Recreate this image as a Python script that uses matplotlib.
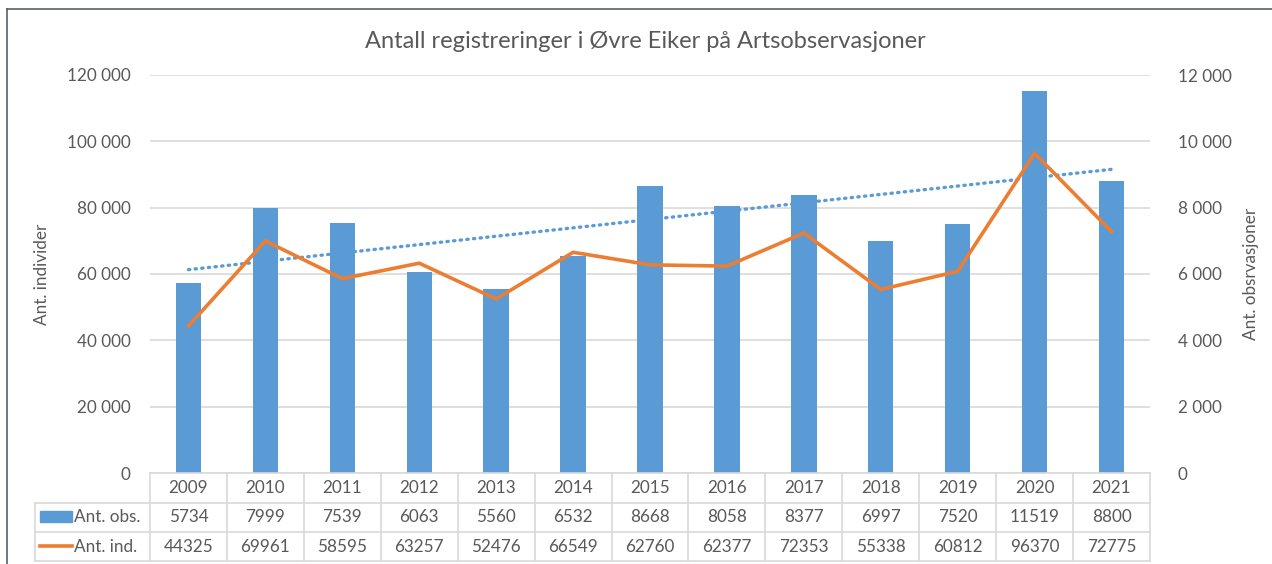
import matplotlib
matplotlib.use("Agg")
import matplotlib.pyplot as plt
import matplotlib.transforms as mtransforms
from matplotlib.lines import Line2D
from matplotlib.patches import Rectangle
from matplotlib.ticker import FuncFormatter
import numpy as np

# data
years = ['2009', '2010', '2011', '2012', '2013', '2014', '2015', '2016',
         '2017', '2018', '2019', '2020', '2021']
ant_obs = [5734, 7999, 7539, 6063, 5560, 6532, 8668, 8058, 8377, 6997, 7520, 11519, 8800]
ant_ind = [44325, 69961, 58595, 63257, 52476, 66549, 62760, 62377, 72353, 55338, 60812, 96370, 72775]
series_labels = ['Ant. obs.', 'Ant. ind.']

BLUE = '#5B9BD5'
ORANGE = '#ED7D31'
TXT = '#595959'
GRID = '#d9d9d9'

plt.rcParams['font.family'] = ['Lato', 'DejaVu Sans']
FS = 12.3

W, H = 1272, 564
fig = plt.figure(figsize=(W / 100, H / 100), dpi=100)

# plot area in pixels: x 150..1150, y 75..473
px_l, px_r, px_t, px_b = 150, 1150, 75, 473
ax = fig.add_axes([px_l / W, 1 - px_b / H, (px_r - px_l) / W, (px_b - px_t) / H])
ax2 = ax.twinx()

x = np.arange(len(years))

# bars on secondary (right) axis
ax2.bar(x, ant_obs, width=0.33, color=BLUE, zorder=2)
# linear trendline of obs
coef = np.polyfit(x, ant_obs, 1)
trend = np.polyval(coef, x)
ax2.plot(x, trend, color=BLUE, lw=2.4, linestyle=(0, (0.4, 1.6)),
         dash_capstyle='round', zorder=3)
ax2.set_ylim(0, 12000)
ax2.set_yticks(np.arange(0, 12001, 2000))
ax2.grid(True, axis='y', color=GRID, lw=1.2)
ax2.set_axisbelow(True)

# line on primary (left) axis, drawn on top
ax.plot(x, ant_ind, color=ORANGE, lw=2.6, solid_joinstyle='miter', zorder=4)
ax.set_ylim(0, 120000)
ax.set_yticks(np.arange(0, 120001, 20000))
ax.set_xlim(-0.5, len(years) - 0.5)
ax.set_xticks([])
ax.set_zorder(ax2.get_zorder() + 1)
ax.patch.set_visible(False)

fmt = FuncFormatter(lambda v, p: f'{int(v):,}'.replace(',', ' '))
ax.yaxis.set_major_formatter(fmt)
ax2.yaxis.set_major_formatter(fmt)

for a in (ax, ax2):
    for s in a.spines.values():
        s.set_visible(False)
    a.tick_params(axis='y', length=0, labelsize=FS, labelcolor=TXT)
ax.tick_params(axis='y', pad=14)
ax2.tick_params(axis='y', pad=20)
ax2.set_xticks([])

ax.set_ylabel('Ant. individer', fontsize=FS, color=TXT)
ax.yaxis.set_label_coords(-0.1, 0.5)
ax2.set_ylabel('Ant. obsrvasjoner', fontsize=FS, color=TXT, rotation=90)
ax2.yaxis.set_label_coords(1.093, 0.5)

fig.text(645 / W, 1 - 41 / H, 'Antall registreringer i Øvre Eiker på Artsobservasjoner',
         ha='center', va='center', fontsize=17, color=TXT)

# data table below the axis
tr = mtransforms.blended_transform_factory(ax.transData, ax.transAxes)
unit = (px_r - px_l) / len(years)

def xd(px):
    return -0.5 + (px - px_l) / unit

def yf(py):
    return -(py - px_b) / (px_b - px_t)

rows_py = [473, 503, 532, 561]
lbl_left = xd(35)
xr = len(years) - 0.5
kw = dict(transform=tr, clip_on=False, color=GRID, lw=1.2)
ax.add_line(Line2D([-0.5, xr], [yf(473)] * 2, **kw))
for py in rows_py[1:]:
    ax.add_line(Line2D([lbl_left, xr], [yf(py)] * 2, **kw))
for i in range(len(years) + 1):
    ax.add_line(Line2D([i - 0.5] * 2, [yf(473), yf(561)], **kw))
ax.add_line(Line2D([lbl_left] * 2, [yf(503), yf(561)], **kw))

centers = [(rows_py[k] + rows_py[k + 1]) / 2 for k in range(3)]
for i, yr in enumerate(years):
    ax.text(i, yf(centers[0]), yr, transform=tr, ha='center', va='center',
            fontsize=FS, color=TXT)
    ax.text(i, yf(centers[1]), str(ant_obs[i]), transform=tr, ha='center',
            va='center', fontsize=FS, color=TXT)
    ax.text(i, yf(centers[2]), str(ant_ind[i]), transform=tr, ha='center',
            va='center', fontsize=FS, color=TXT)

# legend keys in the row label cells
ax.add_patch(Rectangle((xd(40), yf(522)), xd(72) - xd(40), yf(511) - yf(522),
                       transform=tr, clip_on=False, color=BLUE))
ax.add_line(Line2D([xd(40), xd(72)], [yf(546)] * 2, transform=tr, clip_on=False,
                   color=ORANGE, lw=2.6))
ax.text(xd(74), yf(centers[1]), series_labels[0], transform=tr, ha='left',
        va='center', fontsize=FS, color=TXT)
ax.text(xd(74), yf(centers[2]), series_labels[1], transform=tr, ha='left',
        va='center', fontsize=FS, color=TXT)

# outer chart frame (top and left edges visible)
fig.add_artist(Line2D([7 / W, 1.05], [1 - 9 / H] * 2, color='#5a5f6a', lw=1.2))
fig.add_artist(Line2D([7 / W] * 2, [-0.05, 1 - 9 / H], color='#5a5f6a', lw=1.2))

fig.savefig('out.png', dpi=100)
